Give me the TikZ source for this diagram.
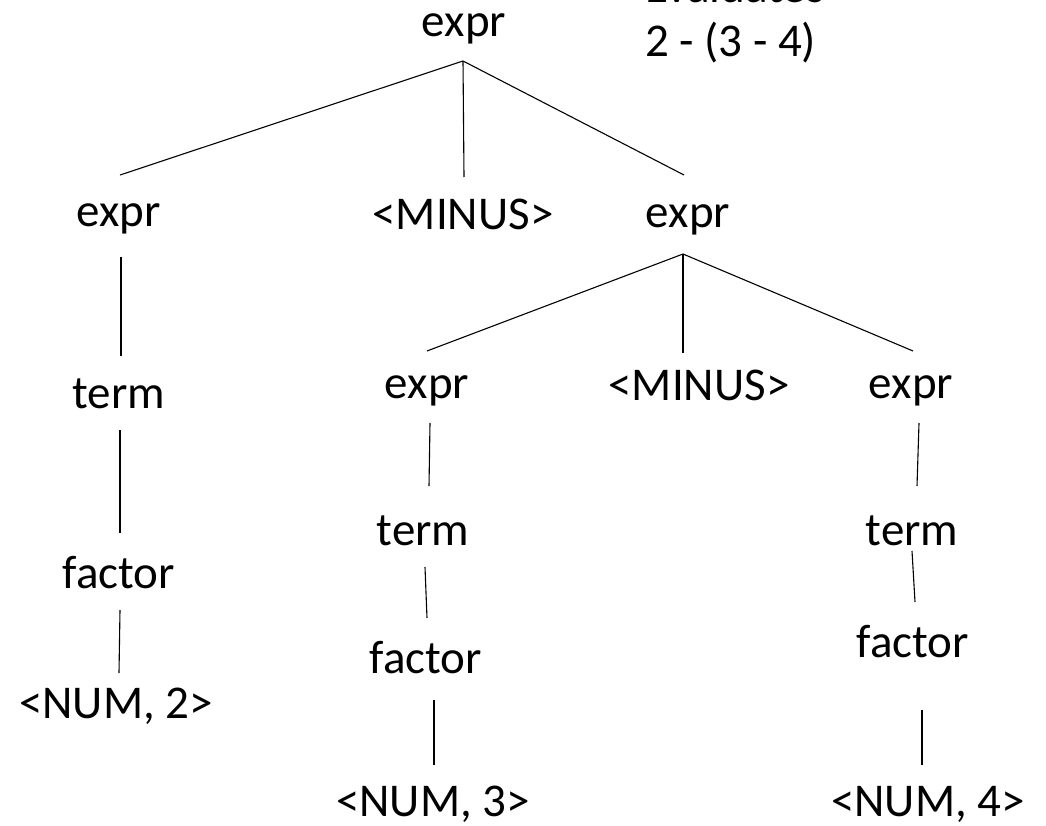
\documentclass[tikz,border=0pt]{standalone}
\usepackage{fontspec}
\setmainfont{Carlito}
\begin{document}
\begin{tikzpicture}[x=1pt,y=-1pt,
  lbl/.style={anchor=base,inner sep=0pt,outer sep=0pt,text height=30pt,text depth=10pt,
    font=\fontsize{47pt}{56pt}\selectfont},
  note/.style={anchor=base west,inner sep=0pt,outer sep=0pt,
    font=\fontsize{47pt}{56pt}\selectfont},
  edge/.style={line width=1.1pt,black}]
\useasboundingbox (0,0) rectangle (1046,826);
% notes
\node[note] (ev) at (645,3) {Evaluates};
\node[note] (ex) at (645,57) {2 - (3 - 4)};
% nodes
\node[lbl] (top) at (464,37) {expr};
\node[lbl] (l1a) at (118.5,227) {expr};
\node[lbl] (l1m) at (463,230) {<MINUS>};
\node[lbl] (l1b) at (688,228) {expr};
\node[lbl] (termL) at (119,408) {term};
\node[lbl] (factL) at (119,588) {factor};
\node[lbl] (num2) at (116,718) {<NUM, 2>};
\node[lbl] (l2a) at (427,398) {expr};
\node[lbl] (l2m) at (699,400) {<MINUS>};
\node[lbl] (l2b) at (911,398) {expr};
\node[lbl] (termM) at (423,545) {term};
\node[lbl] (factM) at (426,673) {factor};
\node[lbl] (num3) at (433,816) {<NUM, 3>};
\node[lbl] (termR) at (912,545) {term};
\node[lbl] (factR) at (913,657) {factor};
\node[lbl] (num4) at (928,816) {<NUM, 4>};
% edges
\draw[edge] ([xshift=-1pt,yshift=-14pt]top.south) -- ([xshift=1.5pt,yshift=22pt]l1a.north);
\draw[edge] ([xshift=-1pt,yshift=-14pt]top.south) -- ([xshift=1pt,yshift=23pt]l1m.north);
\draw[edge] ([xshift=-1pt,yshift=-14pt]top.south) -- ([xshift=-4pt,yshift=23pt]l1b.north);
\draw[edge] ([xshift=2.5pt,yshift=-20pt]l1a.south) -- ([xshift=2pt,yshift=22pt]termL.north);
\draw[edge] ([xshift=1pt,yshift=-12pt]termL.south) -- ([xshift=1pt,yshift=25pt]factL.north);
\draw[edge] ([xshift=1pt,yshift=-12pt]factL.south) -- ([xshift=3pt,yshift=15pt]num2.north);
\draw[edge] ([xshift=-5pt,yshift=-16pt]l1b.south) -- ([xshift=0pt,yshift=17pt]l2a.north);
\draw[edge] ([xshift=-5pt,yshift=-16pt]l1b.south) -- ([xshift=-16pt,yshift=17pt]l2m.north);
\draw[edge] ([xshift=-5pt,yshift=-16pt]l1b.south) -- ([xshift=2pt,yshift=17pt]l2b.north);
\draw[edge] ([xshift=3pt,yshift=-15pt]l2a.south) -- ([xshift=6pt,yshift=29pt]termM.north);
\draw[edge] ([xshift=2pt,yshift=-12pt]termM.south) -- ([xshift=1pt,yshift=25pt]factM.north);
\draw[edge] ([xshift=8pt,yshift=-17pt]factM.south) -- ([xshift=1pt,yshift=21pt]num3.north);
\draw[edge] ([xshift=8pt,yshift=-15pt]l2b.south) -- ([xshift=5pt,yshift=29pt]termR.north);
\draw[edge] ([xshift=0pt,yshift=4pt]termR.south) -- ([xshift=2pt,yshift=25pt]factR.north);
\draw[edge] ([xshift=9pt,yshift=-43pt]factR.south) -- ([xshift=-6pt,yshift=21pt]num4.north);
\end{tikzpicture}
\end{document}
